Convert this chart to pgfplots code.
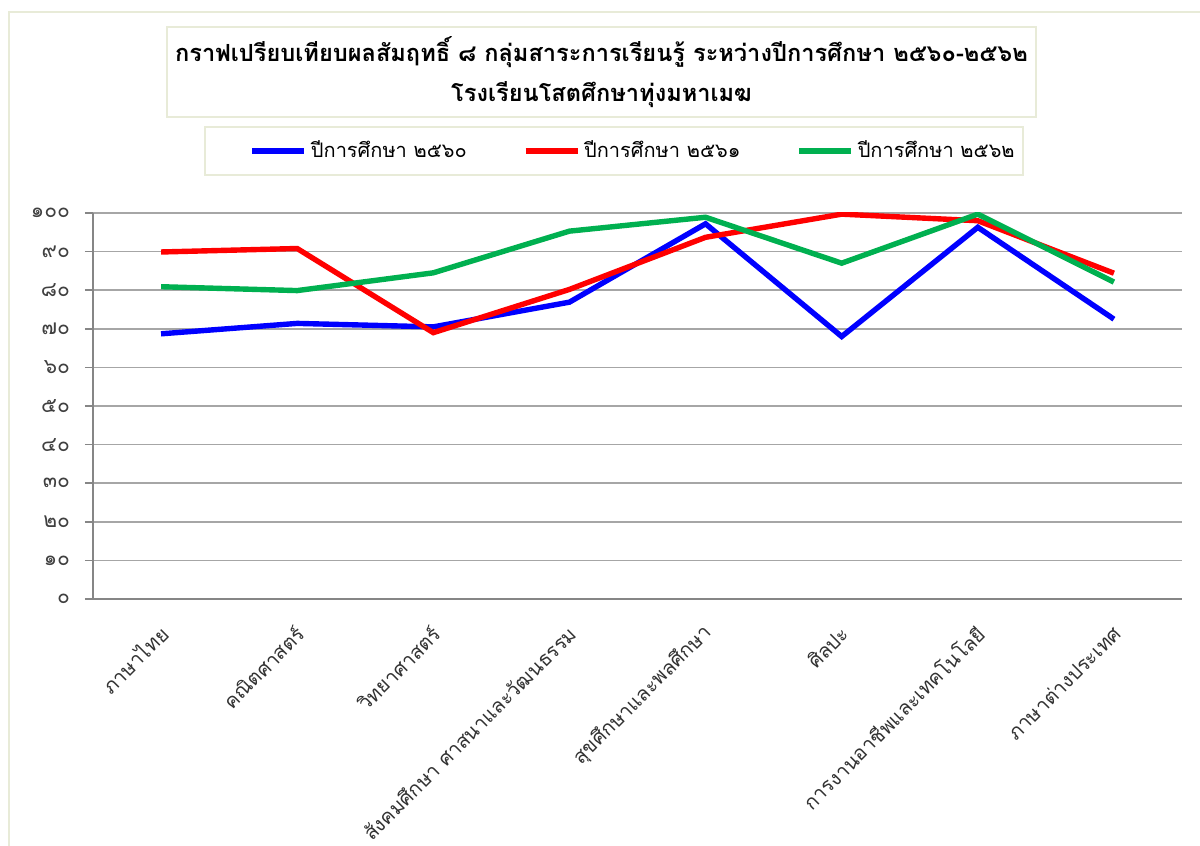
\documentclass[border=0pt]{standalone}
\usepackage{fontspec}
\setmainfont[Script=Thai]{Loma}
\usepackage{pgfplots}
\pgfplotsset{compat=1.18}

\definecolor{frameC}{HTML}{E8EBD8}
\definecolor{axisC}{HTML}{868686}
\definecolor{gridC}{HTML}{A6A6A6}
\definecolor{s60}{HTML}{0000FF}
\definecolor{s61}{HTML}{FF0000}
\definecolor{s62}{HTML}{00B050}

\begin{document}
\begin{tikzpicture}[x=1pt,y=1pt]
  \fill[white] (0,0) rectangle (600,423);
  % outer frame and boxes
  \draw[frameC, line width=1pt] (4.5,-5) |- (610,417);
  \draw[frameC, line width=1pt] (83.5,364.5) rectangle (518,409.5);
  \draw[frameC, line width=1pt] (102.5,335.5) rectangle (511.5,359.5);
  \node[align=center, font=\bfseries\fontsize{11.8}{20}\selectfont] at (300.75,387)
    {กราฟเปรียบเทียบผลสัมฤทธิ์ ๘ กลุ่มสาระการเรียนรู้ ระหว่างปีการศึกษา ๒๕๖๐-๒๕๖๒\\
     โรงเรียนโสตศึกษาทุ่งมหาเมฆ};

  \begin{scope}[shift={(46.5,123.5)}]
  \begin{axis}[
    scale only axis, width=544.5pt, height=193pt,
    xmin=-0.5, xmax=7.5, ymin=0, ymax=100,
    axis lines*=left,
    axis line style={axisC, line width=0.8pt},
    tick align=outside,
    xtick={0,...,7},
    xticklabels={ภาษาไทย,คณิตศาสตร์,วิทยาศาสตร์,สังคมศึกษา ศาสนาและวัฒนธรรม,สุขศึกษาและพลศึกษา,ศิลปะ,การงานอาชีพและเทคโนโลยี,ภาษาต่างประเทศ},
    x tick label style={xshift=4pt, yshift=-9pt, rotate=45, anchor=east,
      font=\fontsize{10}{12}\selectfont, text=black!80},
    xtick style={draw=none},
    minor xtick={-0.5,0.5,...,7.5},
    minor tick length=4pt,
    minor x tick style={axisC, line width=0.8pt},
    ytick={0,10,...,100},
    yticklabels={๐,๑๐,๒๐,๓๐,๔๐,๕๐,๖๐,๗๐,๘๐,๙๐,๑๐๐},
    y tick label style={font=\fontsize{10.5}{13}\selectfont, text=black!75, xshift=-4pt},
    major tick length=4pt,
    ytick style={axisC, line width=0.8pt},
    ymajorgrids,
    grid style={gridC, line width=0.8pt},
    legend columns=3,
    legend style={at={(0.497,1.1606)}, anchor=center, draw=none, fill=none,
      font=\fontsize{10}{13}\selectfont,
      /tikz/every even column/.append style={column sep=26pt}},
    legend image code/.code={\draw[#1, line width=2.6pt] (0pt,0pt) -- (26pt,0pt);},
    every axis plot/.append style={line width=2.7pt},
  ]
    \addplot[s60] coordinates {(0,68.7)(1,71.4)(2,70.5)(3,76.9)(4,97.2)(5,68.0)(6,96.3)(7,72.5)};
    \addplot[s61] coordinates {(0,89.9)(1,90.8)(2,69.0)(3,80.2)(4,93.7)(5,99.7)(6,98.0)(7,84.4)};
    \addplot[s62] coordinates {(0,80.9)(1,79.9)(2,84.5)(3,95.3)(4,98.9)(5,87.0)(6,99.7)(7,82.1)};
    \legend{ปีการศึกษา ๒๕๖๐,ปีการศึกษา ๒๕๖๑,ปีการศึกษา ๒๕๖๒}
  \end{axis}
  \end{scope}
  \pgfresetboundingbox
  \useasboundingbox (0,0) rectangle (600,423);
\end{tikzpicture}
\end{document}
